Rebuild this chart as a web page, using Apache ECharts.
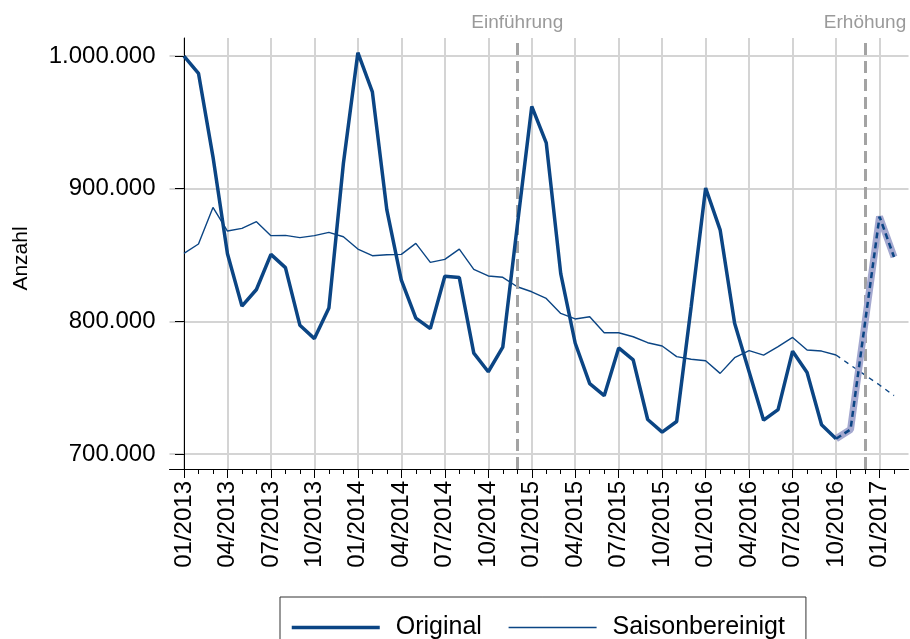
<!DOCTYPE html>
<html>
<head>
<meta charset="utf-8">
<script src="https://cdn.jsdelivr.net/npm/echarts@6/dist/echarts.min.js"></script>
<style>
  html, body { margin: 0; padding: 0; background: #fff; }
  #chart { width: 910px; height: 639px; }
</style>
</head>
<body>
<div id="chart"></div>
<script>
// months on the x axis (index = position)
var months = [
  '01/2013', '02/2013', '03/2013', '04/2013', '05/2013', '06/2013', '07/2013', '08/2013', '09/2013', '10/2013', '11/2013', '12/2013',
  '01/2014', '02/2014', '03/2014', '04/2014', '05/2014', '06/2014', '07/2014', '08/2014', '09/2014', '10/2014', '11/2014', '12/2014',
  '01/2015', '02/2015', '03/2015', '04/2015', '05/2015', '06/2015', '07/2015', '08/2015', '09/2015', '10/2015', '11/2015', '12/2015',
  '01/2016', '02/2016', '03/2016', '04/2016', '05/2016', '06/2016', '07/2016', '08/2016', '09/2016', '10/2016', '11/2016', '12/2016',
  '01/2017', '02/2017'
];
var tickLabels = ['01/2013', '04/2013', '07/2013', '10/2013', '01/2014', '04/2014', '07/2014', '10/2014',
  '01/2015', '04/2015', '07/2015', '10/2015', '01/2016', '04/2016', '07/2016', '10/2016', '01/2017'];
var yTicks = [700000, 800000, 900000, 1000000];

// Original, observed 01/2013 - 10/2016
var original = [
  1000000, 987000, 924000, 851000, 811500, 824000, 850500, 840500, 797000, 787000, 810000, 919000,
  1002500, 973000, 884000, 831000, 802500, 794500, 834000, 833000, 776000, 762000, 780500, 872000,
  962000, 934500, 836000, 783500, 753000, 744000, 780000, 771000, 726000, 716500, 724500, 811000,
  900500, 869000, 798500, 762000, 725500, 733500, 777500, 761500, 722000, 711500
];
// Original, projected 10/2016 - 02/2017
var originalForecast = [711500, 718500, 799000, 879000, 848500];

// Saisonbereinigt, observed 01/2013 - 10/2016
var seasonal = [
  851300, 858300, 885900, 868100, 870100, 875100, 864600, 864800, 863100, 864600, 867100, 863800,
  854500, 849500, 850200, 850500, 858800, 844500, 846700, 854500, 839200, 834200, 833200, 826100,
  822300, 817300, 806000, 801800, 803500, 791400, 791400, 788400, 783900, 781400, 773400, 771400,
  770300, 760800, 772600, 777900, 774600, 780900, 787900, 778400, 777600, 774600
];
// Saisonbereinigt, projected 10/2016 - 02/2017
var seasonalForecast = [774600, 767000, 759500, 752000, 744000];

// events
var eventNames = ['Einführung', 'Erhöhung'];
var eventMonths = ['12/2014', '12/2016'];

var navy = '#0b4584';
var gridGrey = '#d4d4d4';
var font = '"Liberation Sans", Arial, sans-serif';

function pairs(values, start) {
  return values.map(function(v, i) { return [start + i, v]; });
}
function fmt(v) {
  return String(v).replace(/\B(?=(\d{3})+(?!\d))/g, '.');
}

var forecastStart = original.length - 1;
var labelIdx = tickLabels.map(function(l) { return months.indexOf(l); });
var monthIdx = months.map(function(m, i) { return i; });

var chart = echarts.init(document.getElementById('chart'), null, { renderer: 'canvas' });
chart.setOption({
  animation: false,
  backgroundColor: '#fff',
  textStyle: { fontFamily: font },
  grid: { left: 169.5, right: 1.5, top: 38, bottom: 170 },
  xAxis: [{
    type: 'value',
    min: -1,
    max: months.length,
    axisLine: { show: true, lineStyle: { color: '#000', width: 1 } },
    axisTick: { show: true, customValues: labelIdx, length: 9, lineStyle: { color: '#000', width: 1 } },
    axisLabel: {
      customValues: labelIdx,
      rotate: 90,
      margin: 12,
      fontSize: 24,
      color: '#000',
      fontFamily: font,
      formatter: function(v) { return months[v]; }
    },
    splitLine: { show: true, lineStyle: { color: gridGrey, width: 2 } }
  }, {
    type: 'value',
    position: 'bottom',
    min: -1,
    max: months.length,
    axisLine: { show: false },
    axisTick: { show: true, customValues: monthIdx, length: 5, lineStyle: { color: '#000', width: 1 } },
    axisLabel: { show: false },
    splitLine: { show: false }
  }],
  yAxis: {
    type: 'value',
    min: 688700,
    max: 1013600,
    name: 'Anzahl',
    nameLocation: 'middle',
    nameGap: 138,
    nameTextStyle: { fontSize: 21, color: '#000', fontFamily: font, padding: [0, 10, 0, 0] },
    axisLine: { show: true, lineStyle: { color: '#000', width: 1 } },
    axisTick: { show: true, customValues: yTicks, length: 9, lineStyle: { color: '#000', width: 1 } },
    axisLabel: {
      customValues: yTicks,
      margin: 14,
      fontSize: 24,
      color: '#000',
      fontFamily: font,
      formatter: fmt
    },
    splitLine: { show: true, lineStyle: { color: gridGrey, width: 2 } }
  },
  legend: {
    data: [
      { name: 'Original', lineStyle: { color: navy, width: 3.5 } },
      { name: 'Saisonbereinigt', lineStyle: { color: navy, width: 1.4 } }
    ],
    left: 280,
    top: 597,
    orient: 'horizontal',
    borderColor: '#333',
    borderWidth: 1,
    padding: [18, 21, 30, 10],
    itemWidth: 88,
    itemHeight: 14,
    itemGap: 26,
    itemStyle: { opacity: 0 },
    textStyle: { fontSize: 25, color: '#000', fontFamily: font, padding: [0, 0, 0, 11] }
  },
  series: [{
    name: 'Saisonbereinigt',
    type: 'line',
    data: pairs(seasonal, 0),
    showSymbol: false,
    symbol: 'none',
    lineStyle: { color: navy, width: 1.4 },
    itemStyle: { color: navy },
    z: 3
  }, {
    name: 'Saisonbereinigt Prognose',
    type: 'line',
    data: pairs(seasonalForecast, forecastStart),
    showSymbol: false,
    symbol: 'none',
    lineStyle: { color: navy, width: 1.4, type: [5, 5] },
    z: 3
  }, {
    name: 'Ereignisse',
    type: 'line',
    data: [],
    markLine: {
      silent: true,
      symbol: 'none',
      lineStyle: { color: '#a3a3a3', width: 3, type: [12, 6] },
      label: { show: true, position: 'end', distance: 6, color: '#9a9a9a', fontSize: 19, fontFamily: font,
        formatter: function(p) { return p.name; } },
      data: eventMonths.map(function(m, i) { return { name: eventNames[i], xAxis: months.indexOf(m) }; })
    },
    z: 4
  }, {
    name: 'Original Band',
    type: 'line',
    data: pairs(originalForecast, forecastStart),
    showSymbol: false,
    symbol: 'none',
    lineStyle: { color: '#a4a8cf', width: 7 },
    z: 5
  }, {
    name: 'Original Prognose',
    type: 'line',
    data: pairs(originalForecast, forecastStart),
    showSymbol: false,
    symbol: 'none',
    lineStyle: { color: navy, width: 2.5, type: [6, 4] },
    z: 6
  }, {
    name: 'Original',
    type: 'line',
    data: pairs(original, 0),
    showSymbol: false,
    symbol: 'none',
    lineStyle: { color: navy, width: 3.5 },
    itemStyle: { color: navy },
    z: 6
  }]
});
</script>
</body>
</html>
